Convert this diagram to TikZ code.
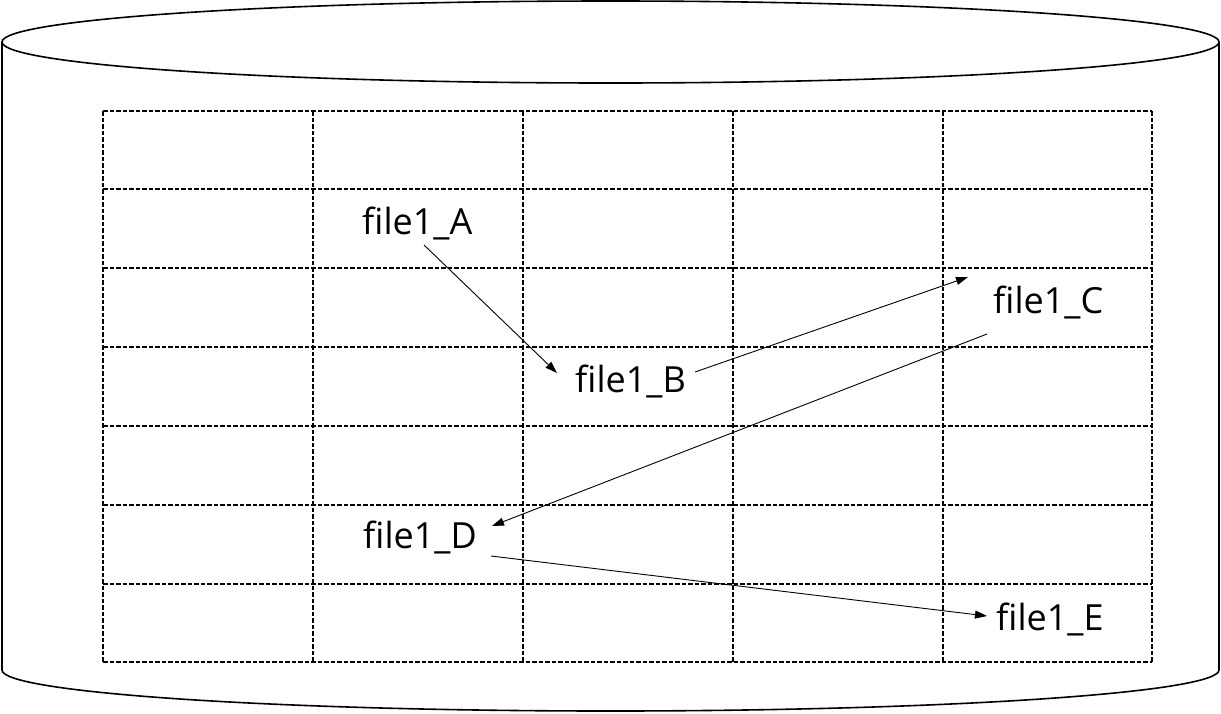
\documentclass[tikz,border=0pt]{standalone}
\usepackage{fontspec}
\setmainfont{Open Sans}
\usetikzlibrary{arrows.meta}
\begin{document}
\begin{tikzpicture}[x=1pt,y=-1pt,
  cyl/.style={line width=1.6pt},
  gridline/.style={line width=1.5pt,dash pattern=on 4.5pt off 2pt},
  lbl/.style={anchor=base west,inner sep=0pt,font=\fontsize{36}{40}\selectfont},
  arr/.style={line width=0.9pt,-{Triangle[length=12pt,width=8pt]}}]
\useasboundingbox (0,0) rectangle (1221,713);
% cylinder
\draw[cyl] (610.5,42) ellipse [x radius=608.5, y radius=41];
\draw[cyl] (2,42) -- (2,670) arc[start angle=180,end angle=360,x radius=608.5,y radius=-41] -- (1219,42);
% grid
\foreach \x in {103,313,523,733,943,1152} \draw[gridline] (\x,111) -- (\x,662);
\foreach \y in {111,189,268,347,426,505,584,662} \draw[gridline] (103,\y) -- (1152,\y);
% labels
\node[lbl] (A) at (362,234) {file1\_A};
\node[lbl] (B) at (575,392) {file1\_B};
\node[lbl] (C) at (993,313) {file1\_C};
\node[lbl] (D) at (363,548) {file1\_D};
\node[lbl] (E) at (996,630) {file1\_E};
% arrows
\draw[arr] ([shift={(62,11)}]A.base west) -- ([shift={(-18,-19)}]B.base west);
\draw[arr] ([shift={(120,-20)}]B.base west) -- ([shift={(-25,-36)}]C.base west);
\draw[arr] ([shift={(-6,21)}]C.base west) -- ([shift={(129,-22)}]D.base west);
\draw[arr] ([shift={(128,8)}]D.base west) -- ([shift={(-9,-14)}]E.base west);
\end{tikzpicture}
\end{document}
